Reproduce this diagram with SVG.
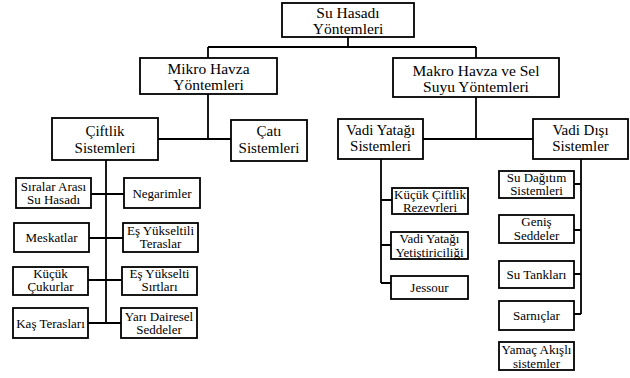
<svg xmlns="http://www.w3.org/2000/svg" width="630" height="378" viewBox="0 0 630 378">
<style>
.b{fill:#fff;stroke:#000;stroke-width:1.8}
.c{fill:none;stroke:#000;stroke-width:1.8}
text{font-family:"Liberation Serif","Times New Roman",serif;fill:#000;text-anchor:middle}
.t1{font-size:15.5px}
.t2{font-size:15px}
.t3{font-size:13px}
</style>
<rect width="630" height="378" fill="#fff"/>
<g id="connectors">
<path class="c" d="M348 37V47M208 47H476M208 47V58M476 47V58"/>
<path class="c" d="M208 94V139M158 139H231"/>
<path class="c" d="M476 97V139M423 139H533"/>
<path class="c" d="M106 160V323M91 194H124M89 238H123M88 280H122M88 323H121"/>
<path class="c" d="M381 159V283M381 200H392M381 245H391M381 283H391"/>
<path class="c" d="M581 159V314M574 184H581M574 230H581M574 274H581M574 314H581"/>
</g>
<g id="root"><rect class="b" x="282" y="3" width="132" height="34"/><text class="t1" x="348" y="18">Su Hasadı</text><text class="t1" x="348" y="33.5">Yöntemleri</text></g>
<g id="mikro"><rect class="b" x="140" y="58" width="137" height="36"/><text class="t1" x="208.5" y="74">Mikro Havza</text><text class="t1" x="208.5" y="89.5">Yöntemleri</text></g>
<g id="makro"><rect class="b" x="393" y="58" width="166" height="39"/><text class="t1" x="476" y="75.5">Makro Havza ve Sel</text><text class="t1" x="476" y="91.5">Suyu Yöntemleri</text></g>
<g id="ciftlik"><rect class="b" x="52" y="118" width="106" height="42"/><text class="t2" x="105" y="136">Çiftlik</text><text class="t2" x="105" y="152.5">Sistemleri</text></g>
<g id="cati"><rect class="b" x="231" y="120" width="76" height="41"/><text class="t2" x="269" y="136">Çatı</text><text class="t2" x="269" y="152.5">Sistemleri</text></g>
<g id="vadiyatagi"><rect class="b" x="338" y="119" width="85" height="40"/><text class="t2" x="380.5" y="134.5">Vadi Yatağı</text><text class="t2" x="380.5" y="151">Sistemleri</text></g>
<g id="vadidisi"><rect class="b" x="533" y="119" width="95" height="40"/><text class="t2" x="580.5" y="134.5">Vadi Dışı</text><text class="t2" x="580.5" y="151">Sistemler</text></g>
<g id="siralar"><rect class="b" x="16" y="178" width="75" height="30"/><text class="t3" x="53.5" y="190.5">Sıralar Arası</text><text class="t3" x="53.5" y="204">Su Hasadı</text></g>
<g id="negarimler"><rect class="b" x="124" y="178" width="76" height="30"/><text class="t3" x="162" y="197.5">Negarimler</text></g>
<g id="meskatlar"><rect class="b" x="14" y="223" width="75" height="29"/><text class="t3" x="51.5" y="241.5">Meskatlar</text></g>
<g id="esyukseltili"><rect class="b" x="123" y="223" width="75" height="29"/><text class="t3" x="160.5" y="234.5">Eş Yükseltili</text><text class="t3" x="160.5" y="248">Teraslar</text></g>
<g id="kucukcukurlar"><rect class="b" x="13" y="267" width="75" height="28"/><text class="t3" x="50.5" y="277.5">Küçük</text><text class="t3" x="50.5" y="291">Çukurlar</text></g>
<g id="esyukselti"><rect class="b" x="122" y="267" width="75" height="28"/><text class="t3" x="159.5" y="277.5">Eş Yükselti</text><text class="t3" x="159.5" y="291">Sırtları</text></g>
<g id="kasteraslari"><rect class="b" x="13" y="308" width="75" height="30"/><text class="t3" x="50.5" y="327.5">Kaş Terasları</text></g>
<g id="yaridairesel"><rect class="b" x="121" y="308" width="76" height="30"/><text class="t3" x="159" y="320.5">Yarı Dairesel</text><text class="t3" x="159" y="334">Seddeler</text></g>
<g id="kucukciftlik"><rect class="b" x="392" y="188" width="76" height="26"/><text class="t3" x="430" y="198.5">Küçük Çiftlik</text><text class="t3" x="430" y="212">Rezevrleri</text></g>
<g id="vadiyetistiricilik"><rect class="b" x="391" y="232" width="77" height="27"/><text class="t3" x="429.5" y="243">Vadi Yatağı</text><text class="t3" x="429.5" y="256.5">Yetiştiriciliği</text></g>
<g id="jessour"><rect class="b" x="391" y="276" width="77" height="23"/><text class="t3" x="429.5" y="292">Jessour</text></g>
<g id="sudagitim"><rect class="b" x="499" y="171" width="75" height="27"/><text class="t3" x="536.5" y="181.5">Su Dağıtım</text><text class="t3" x="536.5" y="195">Sistemleri</text></g>
<g id="genis"><rect class="b" x="499" y="215" width="75" height="28"/><text class="t3" x="536.5" y="226">Geniş</text><text class="t3" x="536.5" y="239.5">Seddeler</text></g>
<g id="sutanklari"><rect class="b" x="499" y="261" width="75" height="27"/><text class="t3" x="536.5" y="279">Su Tankları</text></g>
<g id="sarniclar"><rect class="b" x="499" y="301" width="75" height="29"/><text class="t3" x="536.5" y="320">Sarnıçlar</text></g>
<g id="yamac"><rect class="b" x="499" y="342" width="75" height="28"/><text class="t3" x="536.5" y="354">Yamaç Akışlı</text><text class="t3" x="536.5" y="367.5">sistemler</text></g>
</svg>
